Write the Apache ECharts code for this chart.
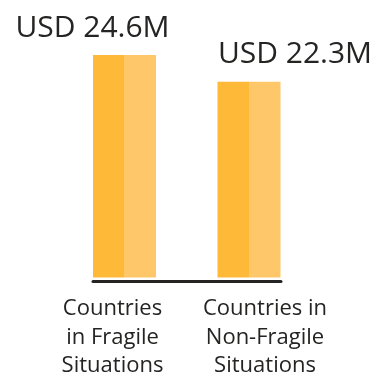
<!DOCTYPE html>
<html>
<head>
<meta charset="utf-8">
<script src="https://cdn.jsdelivr.net/npm/echarts@6/dist/echarts.min.js"></script>
<style>html,body{margin:0;padding:0;background:#fff}#c{width:379px;height:380px}</style>
</head>
<body>
<div id="c"></div>
<script>
var categories = ['Countries\nin Fragile\nSituations', 'Countries in\nNon-Fragile\nSituations'];
var values = [24.6, 22.3];
var labelPrefix = 'USD ';
var labelSuffix = 'M';

var chart = echarts.init(document.getElementById('c'));
var fontFam = '"Segoe UI", "Open Sans", sans-serif';
var labelOffsets = [[-32, 0], [46, 0]];
var catPads = [[0, 24, 0, 0], [0, 0, 0, 32]];
var barColor = new echarts.graphic.LinearGradient(0, 0, 1, 0, [
  {offset: 0, color: '#FDB937'}, {offset: 0.5, color: '#FDB937'},
  {offset: 0.5, color: '#FEC86A'}, {offset: 1, color: '#FEC86A'}
]);
chart.setOption({
  animation: false,
  grid: [
    {left: 62.25, right: 67.75, top: 55, bottom: 100},
    {left: 93, right: 98, top: 270, bottom: 98.5}
  ],
  xAxis: [
    {
      type: 'category', gridIndex: 0,
      data: categories.map(function (c, i) {
        return {value: c, textStyle: {padding: catPads[i]}};
      }),
      axisLine: {show: false}, axisTick: {show: false},
      axisLabel: {
        interval: 0, margin: 17, color: '#252423', fontSize: 22,
        lineHeight: 28.5, fontFamily: fontFam
      }
    },
    {
      type: 'category', gridIndex: 1, data: categories,
      axisLine: {show: true, lineStyle: {color: '#252423', width: 3}},
      axisTick: {show: false}, axisLabel: {show: false}
    }
  ],
  yAxis: [
    {type: 'value', gridIndex: 0, min: 5.4, max: 24.6, show: false},
    {type: 'value', gridIndex: 1, show: false}
  ],
  series: [{
    type: 'bar', xAxisIndex: 0, yAxisIndex: 0, barWidth: 63,
    itemStyle: {color: barColor},
    data: values.map(function (v, i) {
      return {value: v, label: {offset: labelOffsets[i]}};
    }),
    label: {
      show: true, position: 'top', distance: 12,
      fontSize: 30, fontFamily: fontFam, color: '#252423',
      formatter: function (p) { return labelPrefix + p.value + labelSuffix; }
    }
  }]
});
</script>
</body>
</html>
